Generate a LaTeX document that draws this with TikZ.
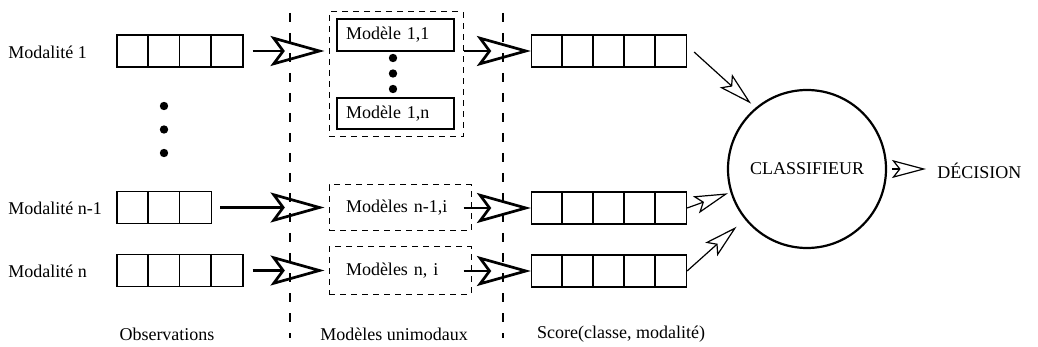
\documentclass[tikz,border=0pt]{standalone}
\usepackage{fontspec}
\setmainfont{Liberation Serif}
\usetikzlibrary{arrows.meta,calc}
\newcommand\rowcells[3]{\foreach \k in {1,...,#2}{\draw[cellline] ($(#1.north west)+(\k*#3,0)$) -- ($(#1.south west)+(\k*#3,0)$);}}
\begin{document}
\begin{tikzpicture}[x=0.5pt,y=-0.5pt,
  font=\fontsize{9}{11}\selectfont,
  cellline/.style={line width=0.6pt},
  cellrow/.style={draw, line width=0.6pt, inner sep=0pt, minimum height=16pt},
  modbox/.style={draw, line width=0.6pt, inner ysep=0pt, align=left},
  dashbox/.style={draw, line width=0.5pt, dash pattern=on 3pt off 2.5pt, inner ysep=0pt, align=left},
  sepline/.style={line width=0.6pt, dash pattern=on 4.5pt off 5.5pt},
  lbl/.style={inner sep=0pt},
  bigarrow/.style={line width=1.35pt, -{Stealth[open, length=27pt, width=15pt, inset=5.5pt]}},
  thinarrow/.style={line width=0.6pt, -{Stealth[open, length=17pt, width=9pt, inset=3.5pt]}},
  dot/.style={circle, fill, inner sep=0pt, minimum size=4.2pt}]
\useasboundingbox (0,0) rectangle (1038,347);

% separators
\draw[sepline] (290,13) -- (290,338);
\draw[sepline] (503,13) -- (503,338);

% observation rows
\node[cellrow, minimum width=63pt] (o1) at (180,51) {};
\node[cellrow, minimum width=47.25pt] (o2) at (164.25,207.5) {};
\node[cellrow, minimum width=63pt] (o3) at (180,270.5) {};
\rowcells{o1}{3}{31.5}
\rowcells{o2}{2}{31.5}
\rowcells{o3}{3}{31.5}

\node[lbl, anchor=west] (l1) at (8,52) {Modalité 1};
\node[lbl, anchor=west] (l2) at (8,208) {Modalité n-1};
\node[lbl, anchor=west] (l3) at (8,271) {Modalité n};

\node[dot] (d1) at (164,106) {};
\node[dot] (d2) at (164,129.5) {};
\node[dot] (d3) at (164,153) {};

% unimodal models
\node[dashbox, minimum width=67pt, minimum height=62.5pt] (m1) at (396,74.5) {};
\node[modbox, text width=49.5pt, inner xsep=4.5pt, minimum height=16pt] (m11) at (395.5,35) {Modèle 1,1};
\node[modbox, text width=49.5pt, inner xsep=4.5pt, minimum height=15.5pt] (m1n) at (395.5,113.5) {Modèle 1,n};
\node[dot] (e1) at (393,58) {};
\node[dot] (e2) at (393,73.5) {};
\node[dot] (e3) at (393,89) {};
\node[dashbox, text width=54pt, inner xsep=8.5pt, minimum height=23pt] (m2) at (400,208) {Modèles n-1,i};
\node[dashbox, text width=54pt, inner xsep=8.5pt, minimum height=23.5pt] (m3) at (400,270.5) {Modèles n, i};

% score rows
\node[cellrow, minimum width=77.5pt] (s1) at (609,51) {};
\node[cellrow, minimum width=77.5pt] (s2) at (609,208) {};
\node[cellrow, minimum width=77.5pt] (s3) at (609,271) {};
\rowcells{s1}{4}{31}
\rowcells{s2}{4}{31}
\rowcells{s3}{4}{31}

% classifier
\node[circle, draw, line width=1.1pt, minimum size=79pt, inner sep=0pt] (c) at (807,169) {CLASSIFIEUR};
\node[lbl, anchor=west] (dec) at (937,171) {DÉCISION};

% bottom labels
\node[lbl] (t1) at (167,334) {Observations};
\node[lbl] (t2) at (394,334) {Modèles unimodaux};
\node[lbl] (t3) at (621,334) {Score(classe, modalité)};

% arrows observations -> models
\draw[bigarrow] ($(o1.east)+(9,0)$) -- ($(o1.east -| m1.west)+(-4,0)$);
\draw[bigarrow] ($(o2.east)+(8,0)$) -- ($(o2.east -| m1.west)+(-4,0)$);
\draw[bigarrow] ($(o3.east)+(9,0)$) -- ($(o3.east -| m1.west)+(-4,0)$);

% arrows models -> scores
\draw[bigarrow] (s1.west -| m1.east) -- (s1.west);
\draw[bigarrow] ($(s2.west -| m2.east)+(-8,0)$) -- (s2.west);
\draw[bigarrow] ($(s3.west -| m3.east)+(-8,0)$) -- (s3.west);

% scores -> classifier
\draw[thinarrow, shorten >=3pt] ($(s1.east)+(7,1)$) -- (c.130);
\draw[thinarrow, shorten >=1.3pt] (s2.east) -- (c.197);
\draw[thinarrow, shorten >=5.5pt] (s3.east) -- (c.219);

% decision
\draw[thinarrow] ($(c.east)+(5,0)$) -- ($(c.east -| dec.west)+(-11,0)$);
\end{tikzpicture}
\end{document}
